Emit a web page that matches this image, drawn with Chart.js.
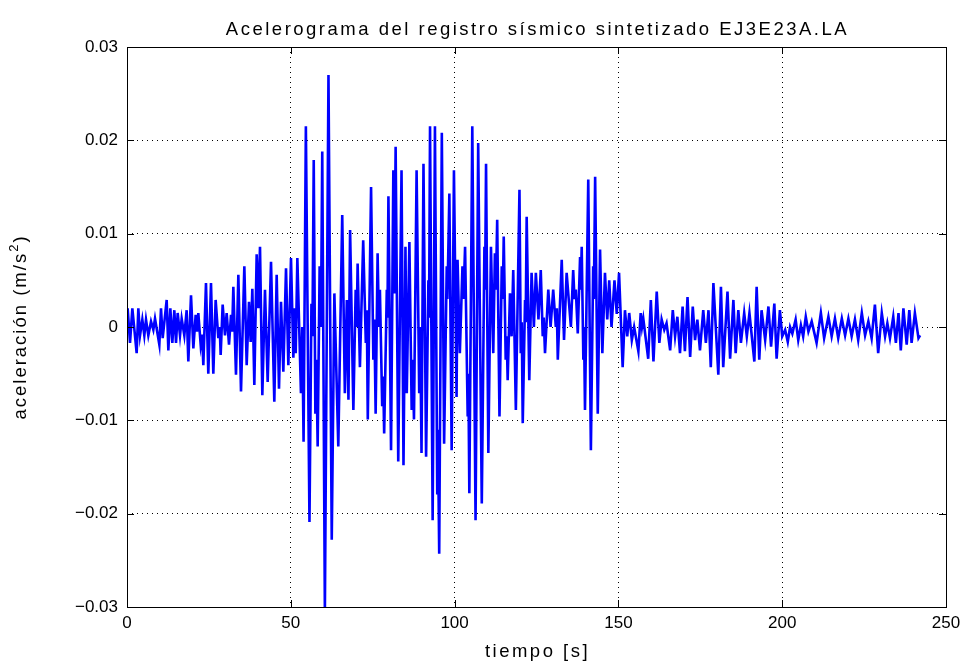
<!DOCTYPE html>
<html>
<head>
<meta charset="utf-8">
<script src="https://cdn.jsdelivr.net/npm/chart.js@4"></script>
<style>
  html, body { margin: 0; padding: 0; background: #fff; }
  #wrap { width: 973px; height: 668px; position: relative; }
</style>
</head>
<body>
<div id="wrap"><canvas id="acel"></canvas></div>
<script>
const titulo = "Acelerograma del registro sísmico sintetizado EJ3E23A.LA";
const ejeX = "tiempo [s]";
const ejeY = "aceleración (m/s";
const ticksX = [0, 50, 100, 150, 200, 250];
const ticksY = [-0.03, -0.02, -0.01, 0, 0.01, 0.02, 0.03];

const tiempo = [
  0.0, 0.2, 0.92, 1.63, 2.95, 3.46, 3.97, 4.68, 5.29, 5.8, 6.51, 7.33, 8.04, 8.55, 9.87, 10.38, 10.89, 12.11, 12.62, 13.23,
  13.84, 14.45, 14.96, 15.47, 16.18, 16.69, 17.5, 18.21, 18.72, 19.54, 20.25, 20.96, 21.37, 21.77, 22.49, 22.9, 23.3, 24.11, 24.82, 25.64,
  26.35, 27.06, 27.88, 28.3, 28.59, 29.2, 29.91, 30.42, 31.14, 31.75, 32.1, 32.46, 33.27, 33.99, 34.8, 35.82, 36.53, 37.24, 37.75, 38.26,
  38.87, 39.58, 40.09, 40.6, 41.31, 42.12, 42.94, 43.96, 44.97, 45.69, 46.4, 47.01, 47.72, 48.54, 49.25, 50.06, 50.78, 51.2, 51.5, 52.0,
  53.1, 53.5, 53.9, 54.6, 55.7, 56.3, 56.6, 57.0, 57.5, 57.8, 58.2, 58.8, 59.2, 59.6, 60.4, 61.5, 62.5, 63.3, 64.5, 65.7,
  66.5, 67.1, 67.6, 68.1, 69.1, 69.8, 70.1, 70.4, 71.1, 72.1, 72.9, 73.2, 73.5, 74.5, 75.2, 75.5, 75.9, 76.5, 76.9, 77.2,
  77.9, 78.2, 78.5, 79.3, 79.5, 79.8, 80.6, 81.3, 81.6, 82.0, 82.8, 83.8, 84.4, 85.0, 85.4, 86.2, 86.9, 87.2, 87.6, 88.4,
  89.2, 89.5, 89.9, 90.5, 91.3, 92.0, 92.2, 92.5, 93.3, 94.0, 94.7, 94.9, 95.3, 96.1, 96.8, 97.6, 97.8, 98.4, 99.1, 99.8,
  100.6, 100.9, 101.6, 102.4, 102.7, 103.2, 104.0, 104.2, 104.5, 105.4, 106.4, 107.2, 108.3, 109.1, 109.3, 109.6, 110.3, 111.1, 111.8, 112.3,
  112.6, 113.0, 113.7, 114.4, 114.7, 115.0, 115.6, 115.9, 116.2, 116.9, 117.4, 117.9, 118.7, 119.8, 120.2, 120.5, 120.8, 121.5, 121.7, 122.0,
  122.8, 123.5, 124.2, 124.8, 125.6, 126.3, 126.9, 127.2, 127.6, 128.6, 129.3, 130.1, 130.9, 131.2, 131.5, 132.7, 133.4, 134.2, 135.5, 136.2,
  136.6, 137.0, 137.6, 138.3, 138.5, 138.8, 139.3, 139.5, 139.8, 140.8, 141.6, 142.3, 142.5, 142.9, 143.7, 144.4, 145.1, 145.9, 146.6, 147.2,
  147.9, 148.8, 149.5, 150.2, 151.3, 152.0, 152.7, 153.3, 154.1, 154.8, 156.1, 156.8, 157.2, 157.6, 159.1, 159.9, 160.7, 161.7, 162.5, 163.2,
  164.0, 164.7, 165.8, 166.6, 167.3, 168.0, 168.8, 169.6, 170.3, 171.1, 171.9, 172.7, 173.4, 174.1, 174.9, 175.9, 176.7, 177.5, 178.2, 179.0,
  180.5, 181.3, 182.0, 183.3, 184.1, 185.1, 185.8, 186.6, 187.4, 188.4, 189.2, 190.0, 191.5, 192.2, 193.0, 193.7, 194.8, 195.8, 196.6, 197.6,
  198.3, 199.3, 200.0, 200.9, 201.7, 202.4, 203.1, 204.1, 204.9, 205.7, 206.4, 207.2, 208.0, 209.0, 210.5, 211.8, 212.8, 214.1, 215.1, 216.1,
  217.1, 218.2, 219.2, 220.2, 221.2, 222.2, 223.2, 224.3, 225.3, 226.3, 227.3, 228.3, 229.3, 230.4, 231.4, 232.1, 232.9, 233.9, 234.7, 235.5,
  236.2, 237.0, 238.0, 238.8, 239.5, 240.5, 241.6, 242.1
];

// aceleracion [m/s2] en esos instantes
const aceleracion = [
  -0.0005, 0.0020, -0.0017, 0.0020, -0.0028, 0.0020, -0.0009, 0.0008, -0.0009, 0.0008, -0.0009, 0.0006, -0.0003, 0.0009, -0.0019, 0.0020, -0.0012, 0.0029, -0.0025, 0.0020,
  -0.0017, 0.0018, -0.0017, 0.0015, -0.0009, 0.0009, -0.0009, 0.0018, -0.0037, 0.0034, -0.0023, 0.0013, -0.0005, 0.0015, -0.0019, -0.0008, -0.0041, 0.0047, -0.0050, 0.0047,
  -0.0050, 0.0029, -0.0012, 0.0000, -0.0030, 0.0024, -0.0009, 0.0015, -0.0019, 0.0013, -0.0005, 0.0043, -0.0051, 0.0056, -0.0069, 0.0065, -0.0041, 0.0027, -0.0016, 0.0041,
  -0.0062, 0.0078, 0.0020, 0.0086, -0.0073, 0.0040, -0.0059, 0.0070, -0.0080, 0.0056, -0.0066, 0.0027, -0.0048, 0.0063, -0.0041, 0.0074, -0.0033, 0.0020, -0.0028, 0.0074,
  -0.0071, 0.0000, -0.0123, 0.0215, -0.0209, 0.0025, -0.0010, 0.0179, -0.0093, -0.0035, -0.0128, 0.0065, 0.0000, 0.0188, -0.0305, 0.0270, -0.0228, 0.0036, -0.0128, 0.0120,
  -0.0071, 0.0029, -0.0078, 0.0104, -0.0089, 0.0040, 0.0000, 0.0068, -0.0043, 0.0093, -0.0017, 0.0018, -0.0099, 0.0150, -0.0035, 0.0008, -0.0093, 0.0079, 0.0000, 0.0040,
  -0.0085, -0.0053, -0.0114, 0.0040, 0.0010, 0.0140, -0.0132, 0.0168, 0.0036, 0.0193, -0.0144, 0.0168, -0.0148, 0.0086, -0.0071, 0.0091, -0.0089, -0.0035, -0.0099, 0.0168,
  -0.0071, 0.0000, -0.0135, 0.0175, -0.0139, 0.0050, 0.0010, 0.0215, -0.0207, 0.0215, -0.0178, -0.0110, -0.0243, 0.0208, -0.0125, 0.0065, 0.0030, 0.0143, -0.0132, 0.0168,
  -0.0075, 0.0072, -0.0028, 0.0065, 0.0030, 0.0086, -0.0096, -0.0050, -0.0178, 0.0215, -0.0207, 0.0197, -0.0189, 0.0086, 0.0040, 0.0175, -0.0135, 0.0086, -0.0028, 0.0079,
  0.0040, 0.0115, -0.0096, 0.0065, 0.0030, 0.0097, -0.0035, -0.0010, -0.0057, 0.0036, -0.0010, 0.0061, -0.0089, 0.0147, -0.0028, 0.0005, -0.0103, 0.0029, 0.0005, 0.0118,
  -0.0057, 0.0058, 0.0000, 0.0058, 0.0008, 0.0061, -0.0010, 0.0010, -0.0028, 0.0040, 0.0000, 0.0040, 0.0000, 0.0020, -0.0035, 0.0072, -0.0014, 0.0058, 0.0000, 0.0061,
  0.0030, 0.0040, -0.0007, 0.0075, 0.0040, 0.0086, -0.0035, 0.0000, -0.0089, 0.0158, -0.0132, 0.0065, 0.0030, 0.0161, -0.0093, 0.0083, -0.0028, 0.0058, 0.0008, 0.0050,
  0.0000, 0.0050, 0.0014, 0.0058, -0.0043, 0.0018, -0.0010, 0.0015, -0.0014, 0.0000, -0.0026, 0.0015, 0.0000, 0.0009, -0.0034, 0.0029, -0.0037, 0.0038, -0.0017, 0.0008,
  -0.0003, 0.0004, -0.0025, 0.0018, -0.0010, 0.0011, -0.0028, 0.0022, -0.0026, 0.0032, -0.0032, 0.0022, -0.0014, 0.0008, -0.0025, 0.0018, -0.0017, 0.0018, -0.0043, 0.0047,
  -0.0051, 0.0043, -0.0043, 0.0038, -0.0034, 0.0029, -0.0028, 0.0018, -0.0017, 0.0015, -0.0010, 0.0015, -0.0037, 0.0043, -0.0035, 0.0018, -0.0014, 0.0022, -0.0021, 0.0025,
  -0.0034, 0.0018, -0.0010, -0.0003, -0.0016, 0.0000, -0.0007, 0.0008, -0.0014, 0.0002, -0.0010, 0.0011, -0.0005, 0.0006, -0.0017, 0.0015, -0.0012, 0.0011, -0.0010, 0.0009,
  -0.0012, 0.0009, -0.0009, 0.0009, -0.0010, 0.0008, -0.0014, 0.0015, -0.0009, 0.0006, -0.0012, 0.0024, -0.0028, 0.0015, -0.0010, 0.0004, -0.0012, 0.0011, -0.0017, 0.0015,
  -0.0025, 0.0020, -0.0019, 0.0018, -0.0017, 0.0015, -0.0012, -0.0009
];

const fuente = "'Liberation Sans', Arial, Helvetica, sans-serif";
const puntos = tiempo.map((t, i) => ({ x: t, y: aceleracion[i] }));

// caja, marcas interiores y textos al estilo MATLAB
const marco = {
  id: "marco",
  afterDraw(chart) {
    const { ctx, chartArea: a, scales } = chart;
    ctx.save();
    ctx.strokeStyle = "#000";
    ctx.lineWidth = 1;
    ctx.strokeRect(a.left + 0.5, a.top + 0.5, a.right - a.left, a.bottom - a.top);
    ctx.beginPath();
    ticksX.forEach((v) => {
      const px = Math.round(scales.x.getPixelForValue(v)) + 0.5;
      ctx.moveTo(px, a.bottom); ctx.lineTo(px, a.bottom - 7);
      ctx.moveTo(px, a.top); ctx.lineTo(px, a.top + 7);
    });
    ticksY.forEach((v) => {
      const py = Math.round(scales.y.getPixelForValue(v)) + 0.5;
      ctx.moveTo(a.left, py); ctx.lineTo(a.left + 7, py);
      ctx.moveTo(a.right, py); ctx.lineTo(a.right - 7, py);
    });
    ctx.stroke();

    const grande = "18.5px " + fuente;
    ctx.fillStyle = "#000";
    ctx.font = grande;
    ctx.letterSpacing = "2.5px";
    ctx.textAlign = "center";
    ctx.textBaseline = "middle";
    ctx.fillText(titulo, (a.left + a.right) / 2 + 1, 30);
    ctx.fillText(ejeX, (a.left + a.right) / 2 + 1, 652);

    ctx.translate(21, (a.top + a.bottom) / 2);
    ctx.rotate(-Math.PI / 2);
    ctx.letterSpacing = "2px";
    const w1 = ctx.measureText(ejeY).width;
    ctx.font = "13px " + fuente;
    const w2 = ctx.measureText("2").width;
    ctx.font = grande;
    const w3 = ctx.measureText(")").width;
    const x0 = -(w1 + w2 + w3) / 2;
    ctx.textAlign = "left";
    ctx.fillText(ejeY, x0, 0);
    ctx.font = "13px " + fuente;
    ctx.fillText("2", x0 + w1, -7);
    ctx.font = grande;
    ctx.fillText(")", x0 + w1 + w2, 0);
    ctx.restore();
  },
};

new Chart(document.getElementById("acel"), {
  type: "line",
  data: {
    datasets: [
      {
        data: puntos,
        borderColor: "#0000ff",
        borderWidth: 2.6,
        pointRadius: 0,
        tension: 0,
        fill: false,
      },
    ],
  },
  options: {
    responsive: true,
    maintainAspectRatio: false,
    animation: false,
    layout: { padding: { top: 47, right: 27, left: 0, bottom: 0 } },
    plugins: { legend: { display: false }, tooltip: { enabled: false }, title: { display: false } },
    scales: {
      x: {
        type: "linear",
        min: 0,
        max: 250,
        afterBuildTicks: (s) => { s.ticks = ticksX.map((v) => ({ value: v })); },
        afterFit: (s) => { s.height = 61; },
        grid: { color: "#000", lineWidth: 1, drawTicks: false },
        border: { display: false, dash: [1, 4] },
        ticks: { color: "#000", padding: 6, font: { size: 17, family: fuente }, maxRotation: 0 },
      },
      y: {
        min: -0.03,
        max: 0.03,
        afterBuildTicks: (s) => { s.ticks = ticksY.map((v) => ({ value: v })); },
        afterFit: (s) => { s.width = 127; },
        grid: { color: "#000", lineWidth: 1, drawTicks: false },
        border: { display: false, dash: [1, 4] },
        ticks: {
          color: "#000",
          padding: 9,
          font: { size: 17, family: fuente },
          callback: (v) => (Math.abs(v) < 1e-9 ? "0" : v < 0 ? "\u2212" + Math.abs(v).toFixed(2) : v.toFixed(2)),
        },
      },
    },
  },
  plugins: [marco],
});
</script>
</body>
</html>
